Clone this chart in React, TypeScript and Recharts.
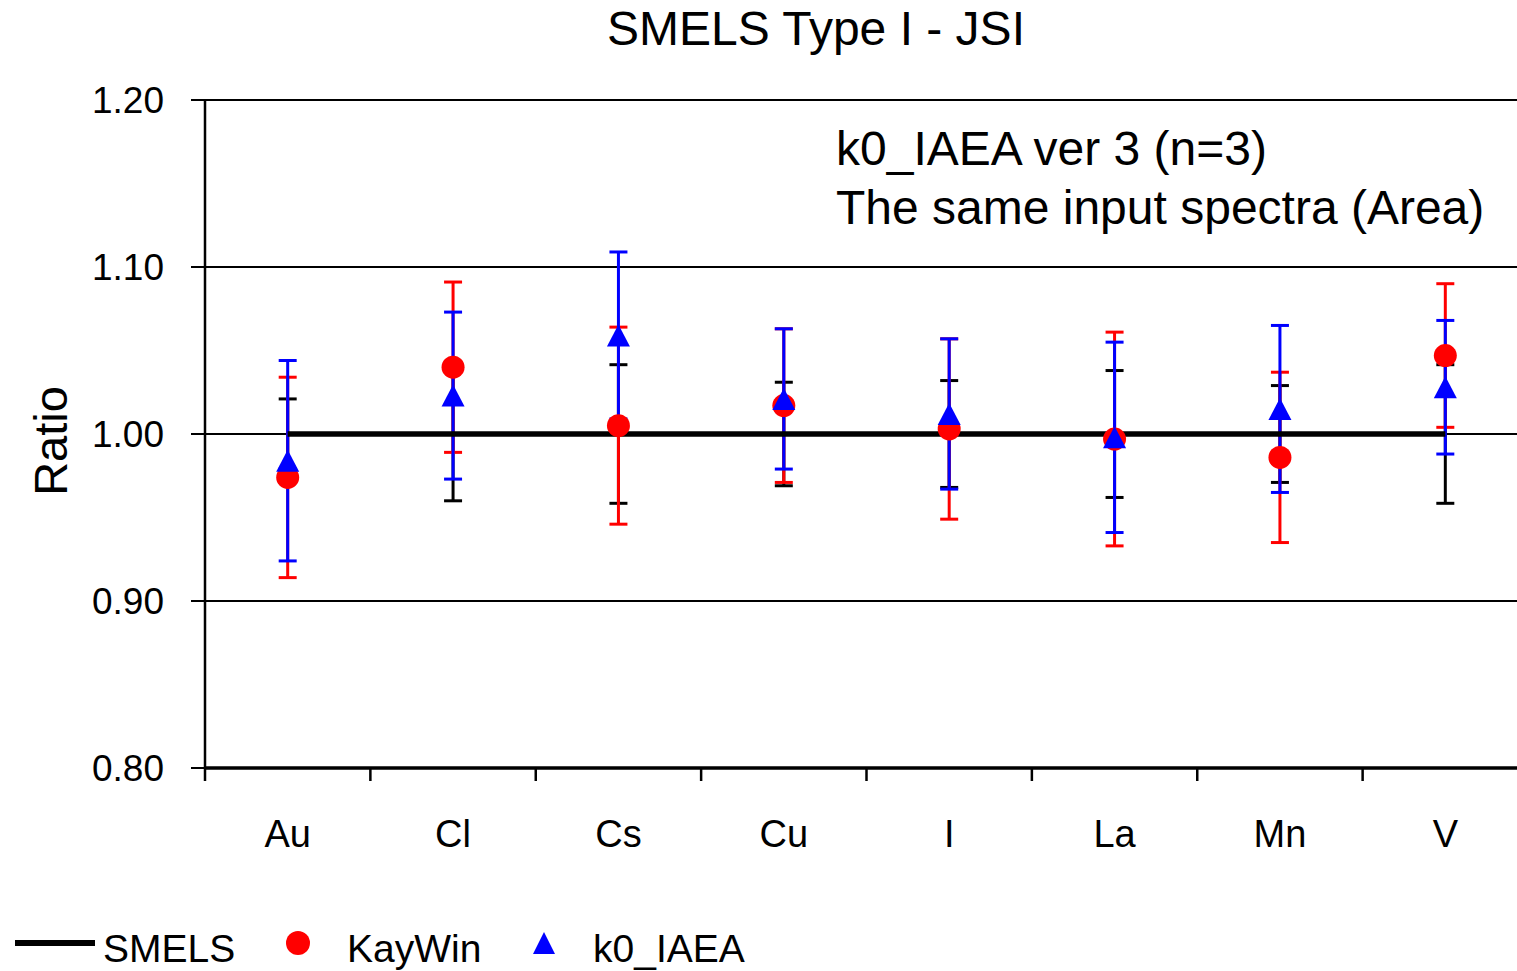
import React from 'react';
import {
  ComposedChart,
  Line,
  Scatter,
  ErrorBar,
  XAxis,
  YAxis,
  CartesianGrid,
  Legend
} from 'recharts';

const elements = ['Au', 'Cl', 'Cs', 'Cu', 'I', 'La', 'Mn', 'V'];
const smels = [1, 1, 1, 1, 1, 1, 1, 1];
const smelsErr = [0.021, 0.040, 0.0415, 0.031, 0.032, 0.038, 0.029, 0.0415];
const kayWin = [0.974, 1.040, 1.005, 1.017, 1.003, 0.997, 0.986, 1.047];
const kayWinErr = [0.060, 0.051, 0.059, 0.046, 0.054, 0.064, 0.051, 0.043];
const k0Iaea = [0.984, 1.023, 1.059, 1.021, 1.012, 0.998, 1.015, 1.028];
const k0IaeaErr = [0.060, 0.050, 0.050, 0.042, 0.045, 0.057, 0.050, 0.040];
const yTicks = [0.8, 0.9, 1.0, 1.1, 1.2];

const data = elements.map((el, i) => ({
  el,
  smels: smels[i],
  smelsErr: smelsErr[i],
  kayWin: kayWin[i],
  kayWinErr: kayWinErr[i],
  k0Iaea: k0Iaea[i],
  k0IaeaErr: k0IaeaErr[i]
}));

const FONT = '"Liberation Sans", Arial, sans-serif';
const CHART_W = 1538;
const CHART_H = 971;
const MARGIN = { top: 100, right: 10, left: 0, bottom: 47 };
const Y_WIDTH = 205;
const BAND = (CHART_W - MARGIN.left - MARGIN.right - Y_WIDTH) / elements.length;

const Empty = () => <g />;

const RedDot = (props: any) => {
  const { cx, cy } = props;
  if (cx == null || cy == null) return <g />;
  return <circle cx={cx} cy={cy} r={11.5} fill="#ff0000" />;
};

const BlueTriangle = (props: any) => {
  const { cx, cy } = props;
  if (cx == null || cy == null) return <g />;
  return (
    <polygon
      points={`${cx},${cy - 11} ${cx - 11.5},${cy + 11} ${cx + 11.5},${cy + 11}`}
      fill="#0000ff"
    />
  );
};

const CategoryTick = (props: any) => {
  const { x, y, payload } = props;
  const edge = x - BAND / 2;
  return (
    <g>
      <line x1={edge} x2={edge} y1={y} y2={y + 13} stroke="#000" strokeWidth={2.5} />
      <text x={x} y={y + 79} textAnchor="middle" fontSize={38} fill="#000" fontFamily={FONT}>
        {payload.value}
      </text>
    </g>
  );
};

const RatioLabel = (props: any) => {
  const vb = props.viewBox || { x: 0, y: 100, width: 205, height: 668 };
  const cx = vb.x + 50;
  const cy = vb.y + vb.height / 2 + 7;
  return (
    <text
      x={cx}
      y={cy}
      transform={`rotate(-90, ${cx}, ${cy})`}
      textAnchor="middle"
      dominantBaseline="central"
      fontSize={47}
      fill="#000"
      fontFamily={FONT}
    >
      Ratio
    </text>
  );
};

const legendItems = [
  { name: 'SMELS', kind: 'line' },
  { name: 'KayWin', kind: 'circle' },
  { name: 'k0_IAEA', kind: 'triangle' }
];

const LegendContent = () => {
  const iconX = [55, 298, 544];
  const textX = [103, 347, 593];
  return (
    <svg width={800} height={56} style={{ display: 'block' }}>
      {legendItems.map((item, i) => (
        <g key={item.name}>
          {item.kind === 'line' && (
            <line x1={iconX[i] - 40} x2={iconX[i] + 40} y1={28} y2={28} stroke="#000" strokeWidth={6} />
          )}
          {item.kind === 'circle' && <ellipse cx={iconX[i]} cy={28} rx={12} ry={12} fill="#ff0000" />}
          {item.kind === 'triangle' && (
            <polygon
              points={`${iconX[i]},${17} ${iconX[i] - 11},${39} ${iconX[i] + 11},${39}`}
              fill="#0000ff"
            />
          )}
          <text x={textX[i]} y={47} fontSize={39} fill="#000" fontFamily={FONT}>
            {item.name}
          </text>
        </g>
      ))}
    </svg>
  );
};

export default function App() {
  return (
    <div
      style={{
        position: 'absolute',
        left: 0,
        top: 0,
        width: 1517,
        height: 971,
        overflow: 'hidden',
        background: '#fff',
        fontFamily: FONT
      }}
    >
      <ComposedChart width={CHART_W} height={CHART_H} data={data} margin={MARGIN}>
        <CartesianGrid vertical={false} stroke="#000" strokeWidth={2} />
        <XAxis
          dataKey="el"
          type="category"
          scale="band"
          height={100}
          interval={0}
          tickSize={0}
          tickMargin={0}
          tickLine={false}
          axisLine={{ stroke: '#000', strokeWidth: 3.5 }}
          tick={<CategoryTick />}
        />
        <YAxis
          domain={[0.8, 1.2]}
          ticks={yTicks}
          allowDataOverflow
          width={Y_WIDTH}
          tickSize={14}
          tickMargin={27}
          tickFormatter={(v: number) => v.toFixed(2)}
          axisLine={{ stroke: '#000', strokeWidth: 2.5 }}
          tickLine={{ stroke: '#000', strokeWidth: 2 }}
          tick={{ fill: '#000', fontSize: 37, fontFamily: FONT }}
          label={<RatioLabel />}
        />
        <Legend
          content={<LegendContent />}
          wrapperStyle={{ left: 0, top: 915, width: 800, height: 56 }}
        />

        {/* error bars first, so that markers sit on top */}
        <Scatter dataKey="smels" shape={<Empty />} legendType="none" isAnimationActive={false}>
          <ErrorBar dataKey="smelsErr" direction="y" width={9} stroke="#000" strokeWidth={3} />
        </Scatter>
        <Scatter dataKey="kayWin" shape={<Empty />} legendType="none" isAnimationActive={false}>
          <ErrorBar dataKey="kayWinErr" direction="y" width={9} stroke="#ff0000" strokeWidth={3} />
        </Scatter>
        <Scatter dataKey="k0Iaea" shape={<Empty />} legendType="none" isAnimationActive={false}>
          <ErrorBar dataKey="k0IaeaErr" direction="y" width={9} stroke="#0000ff" strokeWidth={3} />
        </Scatter>

        <Line
          dataKey="smels"
          name="SMELS"
          stroke="#000"
          strokeWidth={5.5}
          dot={false}
          activeDot={false}
          isAnimationActive={false}
        />
        <Scatter dataKey="kayWin" name="KayWin" shape={<RedDot />} isAnimationActive={false} />
        <Scatter dataKey="k0Iaea" name="k0_IAEA" shape={<BlueTriangle />} isAnimationActive={false} />

        <text x={816} y={45} textAnchor="middle" fontSize={48} fill="#000" fontFamily={FONT}>
          SMELS Type I - JSI
        </text>
        <text x={836} y={165} fontSize={48} fill="#000" fontFamily={FONT}>
          k0_IAEA ver 3 (n=3)
        </text>
        <text x={836} y={224} fontSize={48} fill="#000" fontFamily={FONT}>
          The same input spectra (Area)
        </text>
      </ComposedChart>
    </div>
  );
}
